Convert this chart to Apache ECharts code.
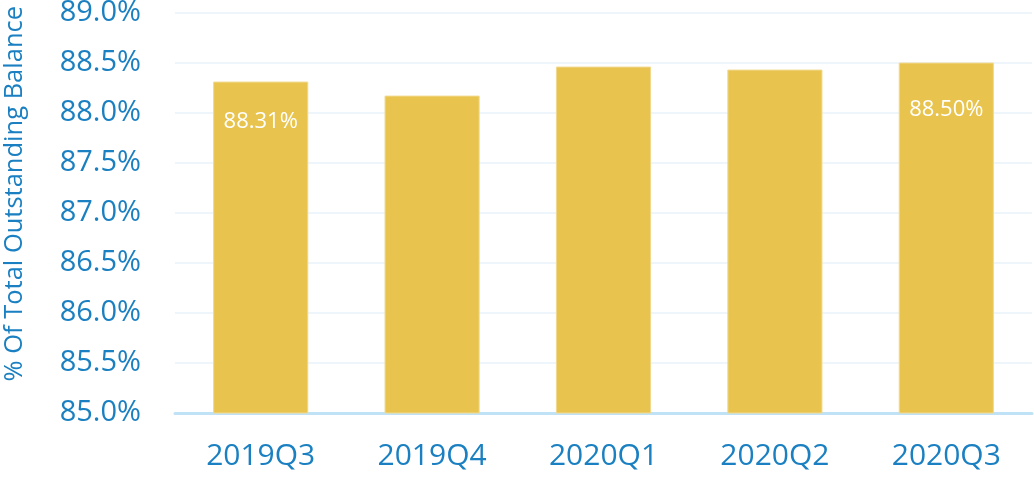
<!DOCTYPE html>
<html>
<head>
<meta charset="utf-8">
<script src="https://cdn.jsdelivr.net/npm/echarts@6/dist/echarts.min.js"></script>
<style>html,body{margin:0;padding:0;background:#fff}#c{width:1034px;height:477px}</style>
</head>
<body>
<div id="c"></div>
<script>
const categories = ['2019Q3', '2019Q4', '2020Q1', '2020Q2', '2020Q3'];
const values = [88.31, 88.17, 88.46, 88.43, 88.50];
const labelShown = [true, false, false, false, true];
const yAxisName = '% Of Total Outstanding Balance';

const textColor = '#1b80c1';
const font = '"Open Sans", "Noto Sans", sans-serif';

const chart = echarts.init(document.getElementById('c'));
chart.setOption({
  animation: false,
  grid: { left: 175, right: 2, top: 12.5, bottom: 64, containLabel: false, outerBoundsMode: 'none' },
  xAxis: {
    type: 'category',
    data: categories,
    axisLine: { lineStyle: { color: '#bfe2f6', width: 3 } },
    axisTick: { show: false },
    axisLabel: { color: textColor, fontSize: 30, fontFamily: font, margin: 28 }
  },
  yAxis: {
    type: 'value',
    min: 85, max: 89, interval: 0.5,
    name: yAxisName,
    nameLocation: 'middle',
    nameGap: 147,
    nameTextStyle: { color: textColor, fontSize: 25.5, fontFamily: font, padding: [0, 0, 0, 38] },
    axisLine: { show: false },
    axisTick: { show: false },
    splitLine: { lineStyle: { color: '#eef5fb', width: 2 } },
    axisLabel: { color: textColor, fontSize: 29, fontFamily: font, margin: 34,
      formatter: v => v.toFixed(1) + '%' }
  },
  series: [{
    type: 'bar',
    barWidth: '55.5%',
    data: values.map((v, i) => ({
      value: v,
      label: {
        show: labelShown[i],
        position: 'insideTop',
        offset: [0, i === 0 ? 24 : 31],
        color: '#fff',
        fontSize: 22,
        fontFamily: font,
        formatter: p => p.value.toFixed(2) + '%'
      }
    })),
    itemStyle: { color: '#e8c44e', borderColor: '#f1d98e', borderWidth: 1 }
  }]
});
</script>
</body>
</html>
